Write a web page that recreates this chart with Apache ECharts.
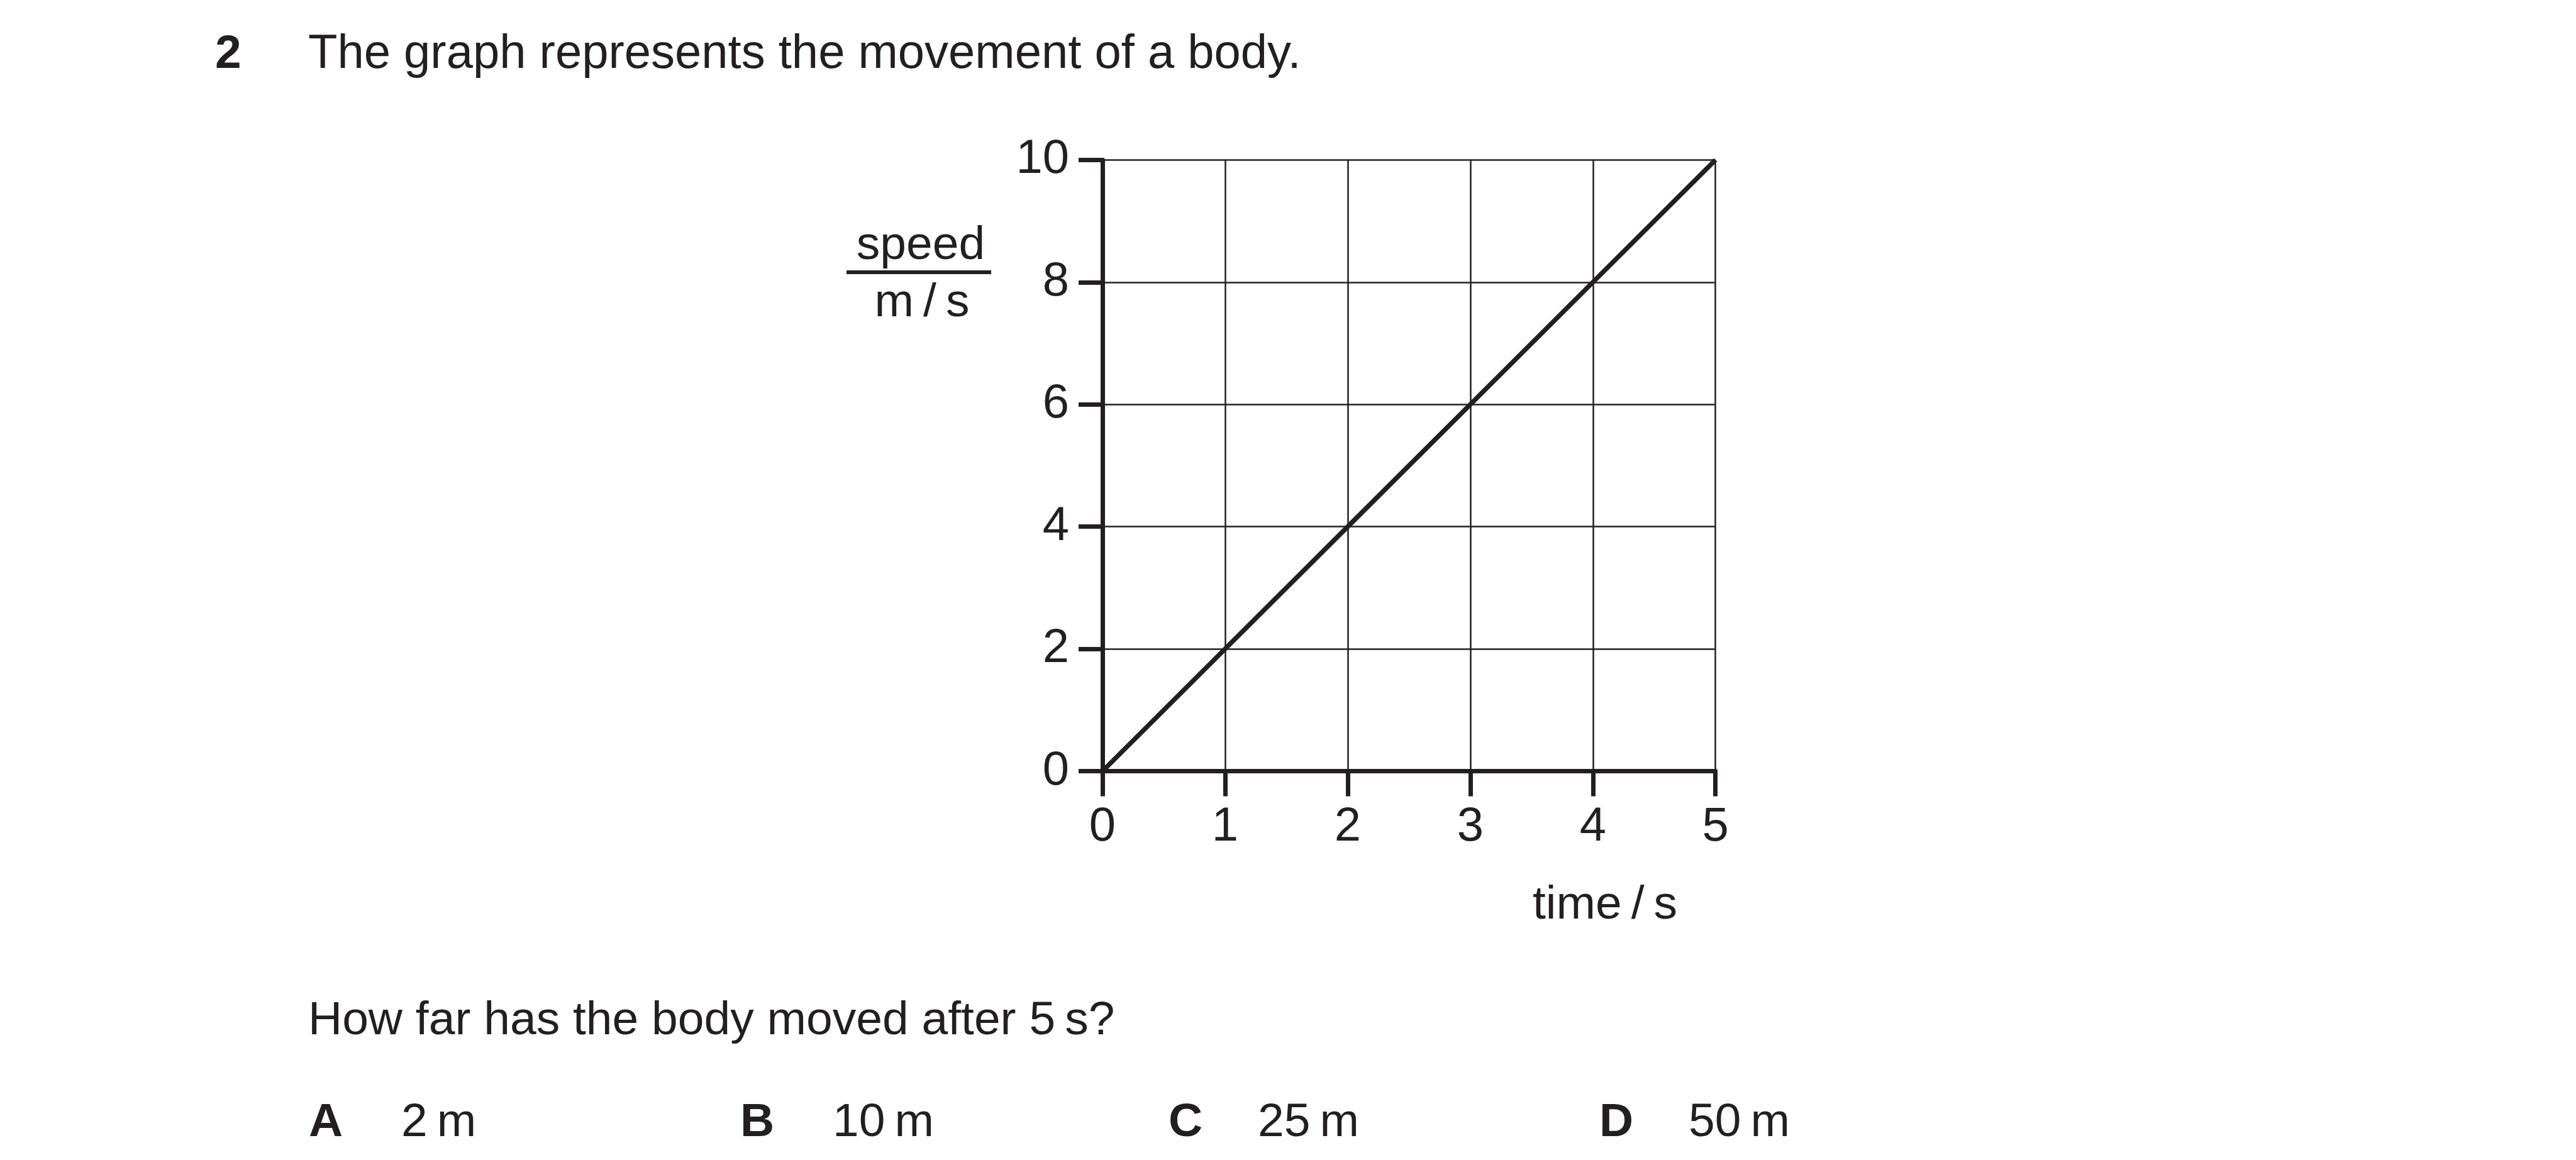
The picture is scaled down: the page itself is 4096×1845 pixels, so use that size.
<!DOCTYPE html>
<html>
<head>
<meta charset="utf-8">
<script src="https://cdn.jsdelivr.net/npm/echarts@6/dist/echarts.min.js"></script>
<style>
html,body{margin:0;padding:0;background:#fff;}
#c{width:4096px;height:1845px;}
</style>
</head>
<body>
<div id="c"></div>
<script>
// ---- data ----
const times = [0, 1, 2, 3, 4, 5];
const speeds = [0, 2, 4, 6, 8, 10];
const xTicks = [0, 1, 2, 3, 4, 5];
const yTicks = [0, 2, 4, 6, 8, 10];
const questionNumber = '2';
const titleText = 'The graph represents the movement of a body.';
const questionText = 'How far has the body moved after 5\u2009s?';
const optionLetters = ['A', 'B', 'C', 'D'];
const optionValues = ['2\u2009m', '10\u2009m', '25\u2009m', '50\u2009m'];
const yNameTop = 'speed';
const yNameBottom = 'm\u2009/\u2009s';
const xName = 'time\u2009/\u2009s';

const INK = '#231f20';
const FONT = '"Liberation Sans", Arial, Helvetica, sans-serif';
const FS = 75;
const DY = 7;

const chart = echarts.init(document.getElementById('c'), null, {renderer: 'canvas'});

function txt(text, x, y, opts) {
  return {
    type: 'text', x: x, y: y + DY, silent: true,
    style: Object.assign({
      text: text, fill: INK, font: 'normal ' + FS + 'px ' + FONT,
      align: 'left', verticalAlign: 'middle'
    }, opts || {})
  };
}

const optionLetterX = [491, 1177, 1858, 2543];
const optionValueX = [638, 1324, 2000, 2685];
const graphics = [
  txt(questionNumber, 342, 80, {font: 'bold ' + FS + 'px ' + FONT}),
  txt(titleText, 490, 80, {font: 'normal 76px ' + FONT}),
  txt(yNameTop, 1464, 384, {align: 'center'}),
  {type: 'rect', silent: true, shape: {x: 1346, y: 430, width: 230, height: 6}, style: {fill: INK}},
  txt(yNameBottom, 1466, 475, {align: 'center'}),
  txt(xName, 2552, 1433, {align: 'center'}),
  txt(questionText, 490, 1617)
];
optionLetters.forEach((l, i) => {
  graphics.push(txt(l, optionLetterX[i], 1779, {font: 'bold ' + FS + 'px ' + FONT}));
  graphics.push(txt(optionValues[i], optionValueX[i], 1779));
});

const option = {
  backgroundColor: '#ffffff',
  animation: false,
  grid: {left: 1753, top: 254.4, width: 974.7, height: 972.2, outerBoundsMode: 'none', containLabel: false},
  xAxis: {
    type: 'value', min: xTicks[0], max: xTicks[xTicks.length - 1], interval: 1,
    axisLine: {show: true, onZero: false, lineStyle: {color: INK, width: 7}},
    axisTick: {show: true, inside: false, length: 40, lineStyle: {color: INK, width: 7}},
    axisLabel: {show: true, margin: 51, color: INK, fontSize: 76, fontFamily: FONT,
      formatter: v => String(v)},
    splitLine: {show: true, lineStyle: {color: INK, width: 2.5}}
  },
  yAxis: {
    type: 'value', min: yTicks[0], max: yTicks[yTicks.length - 1], interval: 2,
    axisLine: {show: true, onZero: false, lineStyle: {color: INK, width: 7}},
    axisTick: {show: true, inside: false, length: 38, lineStyle: {color: INK, width: 7}},
    axisLabel: {show: true, margin: 53, color: INK, fontSize: 76, fontFamily: FONT,
      padding: [12, 0, 0, 0], formatter: v => String(v)},
    splitLine: {show: true, lineStyle: {color: INK, width: 2.5}}
  },
  series: [{
    type: 'line',
    data: times.map((t, i) => [t, speeds[i]]),
    showSymbol: false,
    lineStyle: {color: INK, width: 7.5, cap: 'butt'},
    z: 5
  }],
  graphic: graphics
};
chart.setOption(option);
</script>
</body>
</html>
